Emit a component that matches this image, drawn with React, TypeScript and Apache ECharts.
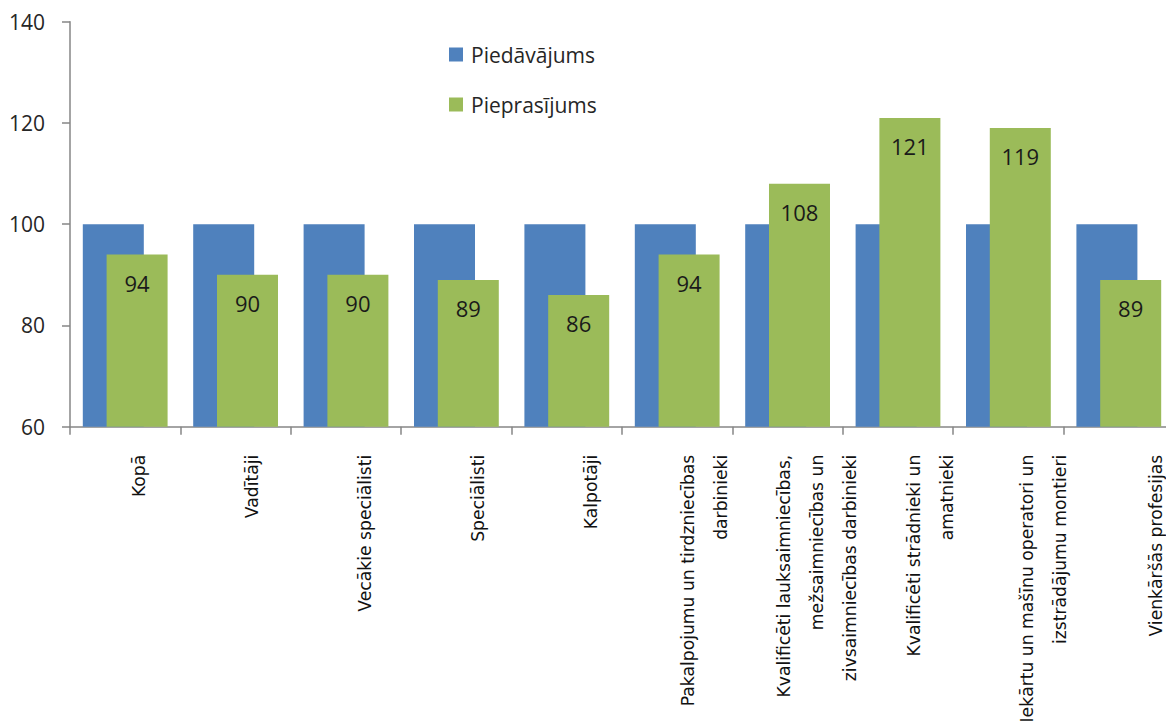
import React, { useEffect, useRef } from "react";
import * as echarts from "echarts";

const categories = [
  "Kopā",
  "Vadītāji",
  "Vecākie speciālisti",
  "Speciālisti",
  "Kalpotāji",
  "Pakalpojumu un tirdzniecības\ndarbinieki",
  "Kvalificēti lauksaimniecības,\nmežsaimniecības un\nzivsaimniecības darbinieki",
  "Kvalificēti strādnieki un\namatnieki",
  "Iekārtu un mašīnu operatori un\nizstrādājumu montieri",
  "Vienkāršās profesijas",
];
const supply = [100, 100, 100, 100, 100, 100, 100, 100, 100, 100];
const demand = [94, 90, 90, 89, 86, 94, 108, 121, 119, 89];
const seriesNames = ["Piedāvājums", "Pieprasījums"];
const yTicks = { min: 60, max: 140, interval: 20 };

const FONT = "'Open Sans', 'Noto Sans', sans-serif";
const XFONT = "'DejaVu Sans', 'Open Sans', sans-serif";

export default function App() {
  const ref = useRef<HTMLDivElement>(null);
  useEffect(() => {
    if (!ref.current) return;
    const chart = echarts.init(ref.current, undefined, { renderer: "svg" });
    const axisColor = "#868686";
    chart.setOption({
      animation: false,
      backgroundColor: "#ffffff",
      textStyle: { fontFamily: FONT },
      grid: [
        { left: 70, right: -8, top: 21.7, bottom: 297.3, containLabel: false, outerBoundsMode: "none" },
        { left: 82.5, right: -46.5, top: 21.7, bottom: 297.3, containLabel: false, outerBoundsMode: "none" },
      ],
      legend: {
        orient: "vertical",
        left: 444,
        top: 39,
        itemWidth: 14,
        itemHeight: 14,
        itemGap: 29,
        icon: "rect",
        textStyle: { fontSize: 21, color: "#262626", fontFamily: FONT, lineHeight: 21, padding: [0, 0, 0, 3] },
        data: seriesNames,
      },
      xAxis: [
        {
          type: "category",
          gridIndex: 0,
          data: categories,
          boundaryGap: true,
          axisLine: { lineStyle: { color: axisColor, width: 1.5 } },
          axisTick: { show: true, interval: 0, length: 8, alignWithLabel: false, lineStyle: { color: axisColor, width: 1.5 } },
          axisLabel: { show: false, interval: 0 },
        },
        {
          type: "category",
          gridIndex: 1,
          data: categories,
          boundaryGap: true,
          axisLine: { show: false },
          axisTick: { show: false },
          axisLabel: {
            rotate: 90,
            interval: 0,
            margin: 28,
            fontSize: 17.2,
            lineHeight: 33,
            color: "#111111",
            fontFamily: XFONT,
          },
        },
      ],
      yAxis: [
        {
          type: "value",
          gridIndex: 0,
          min: yTicks.min,
          max: yTicks.max,
          interval: yTicks.interval,
          splitLine: { show: false },
          axisLine: { show: true, lineStyle: { color: axisColor, width: 1.5 } },
          axisTick: { show: true, length: 8, lineStyle: { color: axisColor, width: 1.5 } },
          axisLabel: { fontSize: 21, color: "#262626", margin: 25, fontFamily: FONT },
        },
        {
          type: "value",
          gridIndex: 1,
          min: yTicks.min,
          max: yTicks.max,
          show: false,
          splitLine: { show: false },
        },
      ],
      series: [
        {
          name: seriesNames[0],
          type: "bar",
          xAxisIndex: 0,
          yAxisIndex: 0,
          data: supply,
          barWidth: 61,
          barGap: "-61%",
          itemStyle: { color: "#4F81BD" },
        },
        {
          name: seriesNames[1],
          type: "bar",
          xAxisIndex: 0,
          yAxisIndex: 0,
          data: demand,
          barWidth: 61,
          itemStyle: { color: "#9BBB59" },
          label: {
            show: true,
            position: "insideTop",
            distance: 17,
            fontSize: 22,
            color: "#1a1a1a",
            fontFamily: FONT,
          },
        },
      ],
    });
    return () => chart.dispose();
  }, []);
  return (
    <div
      ref={ref}
      style={{ position: "absolute", left: 0, top: 0, width: 1166, height: 724, overflow: "hidden" }}
    />
  );
}
